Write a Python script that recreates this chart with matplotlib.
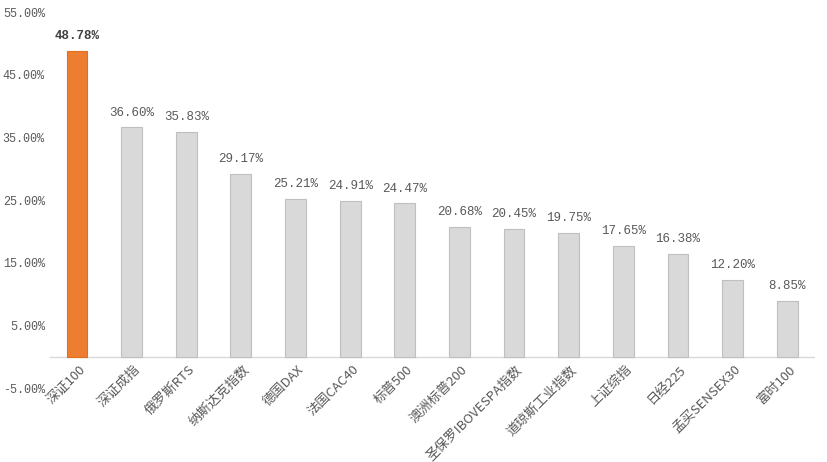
import numpy as np
import matplotlib.pyplot as plt

# data
names = ['深证100', '深证成指', '俄罗斯RTS', '纳斯达克指数', '德国DAX', '法国CAC40',
         '标普500', '澳洲标普200', '圣保罗IBOVESPA指数', '道琼斯工业指数', '上证综指',
         '日经225', '孟买SENSEX30', '富时100']
returns = [48.78, 36.60, 35.83, 29.17, 25.21, 24.91, 24.47, 20.68, 20.45, 19.75,
           17.65, 16.38, 12.20, 8.85]
yticks = [-5, 5, 15, 25, 35, 45, 55]

plt.rcParams['font.family'] = ['Noto Sans CJK SC', 'DejaVu Sans']

fig = plt.figure(figsize=(8.27, 4.62), dpi=100)
ax = fig.add_axes([0.06, 0.16, 0.925, 0.814])

x = np.arange(len(names))
colors = ['#ED7D31'] + ['#D9D9D9'] * (len(names) - 1)
edges = ['#E07020'] + ['#BFBFBF'] * (len(names) - 1)
ax.bar(x, returns, width=0.38, color=colors, edgecolor=edges, linewidth=0.8, zorder=2)

for i, v in enumerate(returns):
    ax.text(i, v + 1.4, '%.2f%%' % v, ha='center', va='bottom',
            fontsize=9, color='#404040' if i == 0 else '#595959',
            family='Liberation Mono', fontweight='bold' if i == 0 else 'normal')

# category labels hang just under the zero line
for i, n in enumerate(names):
    ax.text(i + 0.03, -1.0, n, rotation=45, ha='right', va='top',
            rotation_mode='anchor', fontsize=9.5, color='#595959', clip_on=False)

ax.set_xlim(-0.5, len(names) - 0.5)
ax.set_ylim(-5, 55)
ax.set_yticks(yticks)
ax.set_yticklabels(['%.2f%%' % t for t in yticks], family='Liberation Mono',
                   fontsize=8.5, color='#595959')
ax.set_xticks([])
ax.tick_params(axis='both', length=0)
for s in ax.spines.values():
    s.set_visible(False)
ax.axhline(0, color='#D9D9D9', linewidth=1, zorder=1)

plt.savefig('out.png', dpi=100)
